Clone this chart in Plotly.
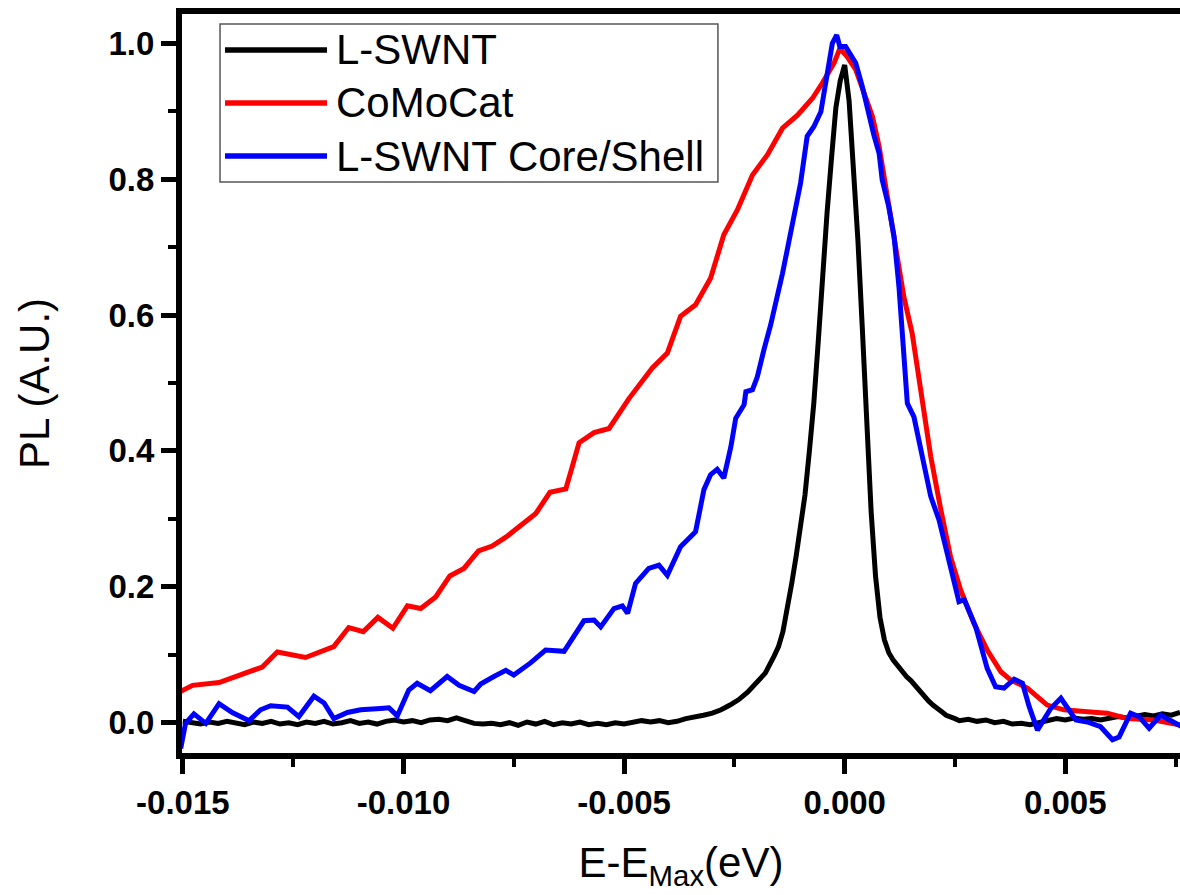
import plotly.graph_objects as go

# ---- data ----
x_black = [-0.01500,-0.01480,-0.01460,-0.01440,-0.01420,-0.01400,-0.01380,-0.01360,-0.01340,-0.01320,
           -0.01300,-0.01280,-0.01260,-0.01240,-0.01220,-0.01200,-0.01180,-0.01160,-0.01140,-0.01120,
           -0.01100,-0.01080,-0.01060,-0.01040,-0.01020,-0.01000,-0.00980,-0.00960,-0.00940,-0.00920,
           -0.00900,-0.00880,-0.00860,-0.00840,-0.00820,-0.00800,-0.00780,-0.00760,-0.00740,-0.00720,
           -0.00700,-0.00680,-0.00660,-0.00640,-0.00620,-0.00600,-0.00580,-0.00560,-0.00540,-0.00520,
           -0.00500,-0.00480,-0.00460,-0.00440,-0.00420,-0.00400,-0.00380,-0.00360,-0.00340,-0.00320,
           -0.00300,-0.00280,-0.00260,-0.00240,-0.00220,-0.00200,-0.00180,-0.00160,-0.00150,-0.00140,
           -0.00130,-0.00120,-0.00110,-0.00100,-0.00090,-0.00080,-0.00070,-0.00060,-0.00050,-0.00040,
           -0.00030,-0.00020,-0.00010,0.00000,0.00010,0.00020,0.00030,0.00040,0.00050,0.00060,
           0.00070,0.00080,0.00090,0.00100,0.00110,0.00120,0.00130,0.00140,0.00150,0.00160,
           0.00170,0.00180,0.00190,0.00200,0.00210,0.00220,0.00230,0.00240,0.00250,0.00260,
           0.00280,0.00300,0.00320,0.00340,0.00360,0.00380,0.00400,0.00420,0.00440,0.00460,
           0.00480,0.00500,0.00520,0.00540,0.00560,0.00580,0.00600,0.00620,0.00640,0.00660,
           0.00680,0.00700,0.00720,0.00740,0.00760]
y_black = [0.002,0.000,-0.002,0.001,-0.001,0.002,0.000,-0.003,0.001,-0.001,
           0.002,-0.002,0.000,-0.003,0.001,-0.001,0.002,-0.002,0.000,0.003,
           -0.001,0.001,-0.002,0.002,0.004,0.001,0.003,0.000,0.004,0.005,
           0.003,0.007,0.003,-0.001,-0.002,-0.001,-0.003,0.000,-0.004,0.001,
           -0.002,0.002,-0.003,0.000,-0.002,0.001,-0.003,-0.001,-0.003,0.000,
           -0.002,0.001,0.003,0.001,0.003,0.000,0.002,0.006,0.008,0.011,
           0.014,0.019,0.026,0.034,0.045,0.058,0.073,0.098,0.112,0.134,
           0.166,0.205,0.245,0.290,0.335,0.400,0.470,0.560,0.660,0.750,
           0.830,0.905,0.945,0.968,0.915,0.825,0.710,0.580,0.430,0.310,
           0.215,0.155,0.122,0.103,0.092,0.083,0.075,0.068,0.062,0.054,
           0.046,0.038,0.032,0.026,0.020,0.016,0.011,0.009,0.006,0.003,
           0.005,0.002,0.004,0.000,0.002,-0.002,-0.001,-0.003,0.000,0.003,
           0.006,0.004,0.007,0.005,0.006,0.004,0.006,0.009,0.007,0.010,
           0.012,0.010,0.013,0.011,0.015]

x_red = [-0.01505,-0.01478,-0.01418,-0.01354,-0.01320,-0.01286,-0.01222,-0.01158,-0.01124,-0.01091,
         -0.01058,-0.01024,-0.00991,-0.00961,-0.00927,-0.00895,-0.00863,-0.00830,-0.00799,-0.00768,
         -0.00734,-0.00700,-0.00668,-0.00632,-0.00602,-0.00568,-0.00534,-0.00489,-0.00436,-0.00402,
         -0.00372,-0.00338,-0.00304,-0.00274,-0.00243,-0.00209,-0.00175,-0.00141,-0.00107,-0.00073,
         -0.00051,-0.00024,-0.00011,0.00006,0.00025,0.00044,0.00063,0.00078,0.00097,0.00116,
         0.00134,0.00153,0.00165,0.00176,0.00195,0.00218,0.00240,0.00263,0.00293,0.00323,
         0.00354,0.00376,0.00414,0.00459,0.00497,0.00550,0.00595,0.00641,0.00701,0.00765]
y_red = [0.046,0.055,0.059,0.075,0.082,0.104,0.096,0.112,0.140,0.134,
         0.155,0.139,0.172,0.168,0.185,0.216,0.227,0.253,0.260,0.273,
         0.291,0.308,0.339,0.344,0.412,0.427,0.433,0.477,0.522,0.544,
         0.598,0.615,0.654,0.718,0.755,0.806,0.836,0.875,0.894,0.919,
         0.941,0.971,0.992,0.980,0.961,0.929,0.892,0.848,0.774,0.701,
         0.627,0.573,0.524,0.475,0.392,0.313,0.244,0.195,0.146,0.107,
         0.075,0.063,0.051,0.026,0.019,0.016,0.014,0.006,0.004,-0.004]

x_blue = [-0.01505,-0.01494,-0.01475,-0.01448,-0.01418,-0.01388,-0.01350,-0.01324,-0.01301,-0.01263,
          -0.01237,-0.01203,-0.01180,-0.01158,-0.01127,-0.01097,-0.01052,-0.01033,-0.01014,-0.00988,
          -0.00969,-0.00939,-0.00901,-0.00874,-0.00840,-0.00825,-0.00795,-0.00768,-0.00750,-0.00712,
          -0.00678,-0.00636,-0.00591,-0.00568,-0.00553,-0.00523,-0.00504,-0.00492,-0.00474,-0.00444,
          -0.00421,-0.00402,-0.00372,-0.00338,-0.00319,-0.00304,-0.00289,-0.00274,-0.00258,-0.00247,
          -0.00228,-0.00224,-0.00209,-0.00198,-0.00183,-0.00168,-0.00141,-0.00115,-0.00100,-0.00085,
          -0.00070,-0.00054,-0.00043,-0.00028,-0.00018,-0.00011,0.00002,0.00015,0.00025,0.00040,
          0.00055,0.00066,0.00078,0.00085,0.00100,0.00112,0.00123,0.00134,0.00142,0.00157,
          0.00172,0.00195,0.00214,0.00237,0.00259,0.00271,0.00297,0.00323,0.00342,0.00361,
          0.00384,0.00403,0.00418,0.00437,0.00467,0.00490,0.00524,0.00550,0.00580,0.00607,
          0.00622,0.00648,0.00667,0.00690,0.00716,0.00765]
y_blue = [-0.038,-0.001,0.013,-0.001,0.028,0.015,0.003,0.019,0.025,0.023,
          0.009,0.039,0.029,0.006,0.015,0.019,0.021,0.022,0.010,0.048,
          0.058,0.047,0.068,0.055,0.046,0.057,0.068,0.077,0.070,0.088,
          0.107,0.105,0.150,0.151,0.141,0.168,0.172,0.161,0.205,0.227,
          0.232,0.217,0.259,0.281,0.343,0.365,0.373,0.360,0.406,0.448,
          0.468,0.487,0.490,0.509,0.549,0.585,0.661,0.740,0.794,0.863,
          0.877,0.899,0.946,1.000,1.012,0.995,0.995,0.980,0.971,0.936,
          0.892,0.865,0.838,0.799,0.759,0.715,0.642,0.544,0.470,0.450,
          0.401,0.333,0.298,0.239,0.178,0.181,0.141,0.080,0.053,0.051,
          0.064,0.058,0.024,-0.011,0.021,0.036,0.004,0.001,-0.006,-0.025,
          -0.021,0.014,0.009,-0.008,0.011,-0.006]

series_names = ["L-SWNT", "CoMoCat", "L-SWNT Core/Shell"]
series_colors = ["#000000", "#ff0000", "#0000ff"]

x_tickvals = [-0.015, -0.010, -0.005, 0.000, 0.005]
x_ticktext = ["-0.015", "-0.010", "-0.005", "0.000", "0.005"]
y_tickvals = [0.0, 0.2, 0.4, 0.6, 0.8, 1.0]
y_ticktext = ["0.0", "0.2", "0.4", "0.6", "0.8", "1.0"]

FONT = "Liberation Sans, Arial, sans-serif"

fig = go.Figure()
for xs, ys, name, col in zip([x_black, x_red, x_blue], [y_black, y_red, y_blue],
                             series_names, series_colors):
    fig.add_trace(go.Scatter(x=xs, y=ys, mode="lines", name=name,
                             line=dict(color=col, width=5), showlegend=False))

# custom legend (box, line samples, labels)
fig.add_shape(type="rect", xref="paper", yref="paper", x0=0.0381, x1=0.537, y0=0.7727, y1=0.9865,
              line=dict(color="#555555", width=1.5), fillcolor="white", layer="below")
rows_y = [0.9513, 0.8796, 0.8078]
for name, col, ry in zip(series_names, series_colors, rows_y):
    fig.add_shape(type="line", xref="paper", yref="paper", x0=0.0431, x1=0.1453, y0=ry, y1=ry,
                  line=dict(color=col, width=5.5))
    fig.add_annotation(xref="paper", yref="paper", x=0.1523, y=ry, text=name, showarrow=False,
                       xanchor="left", yanchor="middle", font=dict(family=FONT, size=42, color="black"))

fig.update_layout(
    width=1180, height=895,
    margin=dict(l=182, r=0, t=14, b=142),
    paper_bgcolor="white", plot_bgcolor="white",
    showlegend=False,
)
fig.update_xaxes(
    range=[-0.01502, 0.00760], showgrid=False, zeroline=False,
    showline=True, linecolor="black", linewidth=6, mirror=True,
    ticks="outside", ticklen=15, tickwidth=5, tickcolor="black",
    tickvals=x_tickvals, ticktext=x_ticktext,
    tickfont=dict(family=FONT, size=33, color="black", weight="bold"),
    minor=dict(ticks="outside", ticklen=8, tickwidth=4, tickcolor="black",
               tick0=0, dtick=0.0025, showgrid=False),
    title=dict(text="E-E<sub>Max</sub>(eV)", font=dict(family=FONT, size=42, color="black"), standoff=30),
)
fig.update_yaxes(
    range=[-0.0446, 1.043], showgrid=False, zeroline=False,
    showline=True, linecolor="black", linewidth=6, mirror=False,
    ticks="outside", ticklen=15, tickwidth=5, tickcolor="black",
    tickvals=y_tickvals, ticktext=y_ticktext,
    tickfont=dict(family=FONT, size=33, color="black", weight="bold"),
    minor=dict(ticks="outside", ticklen=8, tickwidth=4, tickcolor="black",
               tick0=0, dtick=0.1, showgrid=False),
    title=dict(text="PL (A.U.)", font=dict(family=FONT, size=42, color="black"), standoff=48),
)

fig.write_html("out.html")
